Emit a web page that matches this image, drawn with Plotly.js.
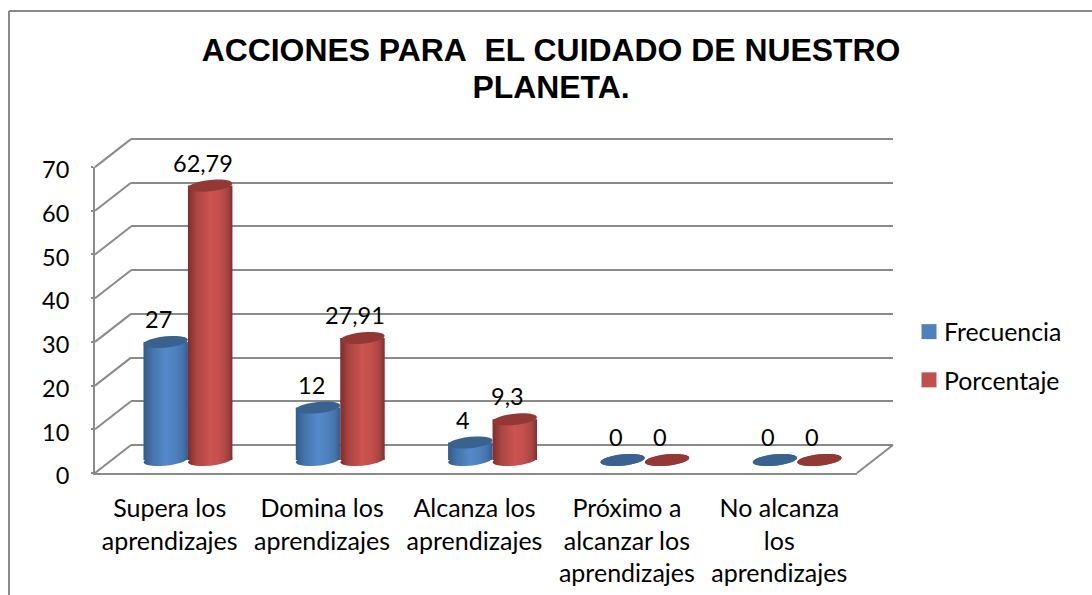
<!DOCTYPE html>
<html><head><meta charset="utf-8">
<script src="https://cdn.plot.ly/plotly-3.0.1.min.js"></script>
<style>html,body{margin:0;padding:0;background:#fff;overflow:hidden}</style>
</head><body><div id="chart" style="width:1092px;height:595px"></div>
<script>
const categories = ["Supera los<br>aprendizajes","Domina los<br>aprendizajes","Alcanza los<br>aprendizajes","Próximo a<br>alcanzar los<br>aprendizajes","No alcanza<br>los<br>aprendizajes"];
const frecuencia = [27,12,4,0,0];
const porcentaje = [62.79,27.91,9.3,0,0];
const frecuenciaLabels = ["27","12","4","0","0"];
const porcentajeLabels = ["62,79","27,91","9,3","0","0"];
const yTicks = [0,10,20,30,40,50,60,70];

const W=1092,H=595;
const px=x=>x/W, py=y=>(H-y)/H;
const positions = categories.map((_,i)=>i);
const FONT='Lato, sans-serif', GRID='#8a8a8a';
const BLUE='#4F81BD', RED='#C0504D', BLUETOP='#3A6291', REDTOP='#943836';
const hw=0.146;

function ellipse(cx,cy){
  const pts=[];
  for(let a=0;a<360;a+=15){
    const t=a*Math.PI/180;
    const x=cx+hw*Math.cos(t);
    const y=cy+1.3*Math.sin(t)+0.5*Math.cos(t);
    pts.push((a?'L':'M')+x.toFixed(4)+','+y.toFixed(4));
  }
  return pts.join(' ')+' Z';
}
const shapes=[];
const line=(x0,y0,x1,y1,w,c)=>({type:'line',xref:'paper',yref:'paper',x0:px(x0),y0:py(y0),x1:px(x1),y1:py(y1),line:{color:c||GRID,width:w||2},layer:'below'});
// outer chart frame
shapes.push(line(9,11,1092,11,2,'#8a8a8a'),line(9,11,9,595,2,'#8a8a8a'));
// perspective wall and floor edges
yTicks.forEach(t=>{
  const f=473-t*4.37, b=445-t*4.37;
  shapes.push(line(95,f,131,b));
});
shapes.push(line(857,473,893,445));
// cylinder ends
[[frecuencia,-hw,BLUE],[porcentaje,hw,RED]].forEach(([vals,off,body])=>{
  vals.forEach((v,i)=>{
    shapes.push({type:'path',xref:'x3',yref:'y3',layer:'below',path:ellipse(i+off,0),fillcolor:body,line:{width:0}});
  });
});
[[frecuencia,-hw,BLUETOP],[porcentaje,hw,REDTOP]].forEach(([vals,off,top])=>{
  vals.forEach((v,i)=>{
    shapes.push({type:'path',xref:'x3',yref:'y3',layer:'above',path:ellipse(i+off,v),fillcolor:top,line:{width:0}});
  });
});
const annotations=[];
[[frecuencia,frecuenciaLabels,-hw],[porcentaje,porcentajeLabels,hw]].forEach(([vals,labs,off])=>{
  vals.forEach((v,i)=>annotations.push({xref:'x3',yref:'y3',x:i+off,y:v,text:labs[i],showarrow:false,xanchor:'center',yanchor:'middle',xshift:-7,yshift:23,font:{family:FONT,size:23.5,color:'#000'}}));
});

const traces=[
 {type:'scatter',x:[0],y:[0],xaxis:'x',yaxis:'y',mode:'none',showlegend:false,hoverinfo:'skip'},
 {type:'scatter',x:[0],y:[0],xaxis:'x2',yaxis:'y2',mode:'none',showlegend:false,hoverinfo:'skip'},
 {type:'bar',name:'Frecuencia',x:positions,y:frecuencia,xaxis:'x3',yaxis:'y3',marker:{color:BLUE},legendgroup:'a'},
 {type:'bar',name:'Porcentaje',x:positions,y:porcentaje,xaxis:'x3',yaxis:'y3',marker:{color:RED},legendgroup:'b'}
];
const layout={
 width:W,height:H,margin:{l:0,r:0,t:0,b:0,pad:0},paper_bgcolor:'#fff',plot_bgcolor:'rgba(0,0,0,0)',
 font:{family:FONT,color:'#000'},
 title:{text:'ACCIONES PARA\u00A0 EL CUIDADO DE NUESTRO<br>PLANETA.',x:551/W,xanchor:'center',y:py(60.5),yanchor:'middle',yref:'paper',font:{family:'"Liberation Sans", Arial, sans-serif',size:31.9,color:'#000',weight:700}},
 barmode:'group',bargap:0.416,bargroupgap:0,
 xaxis:{domain:[px(131),px(893)],range:[0,1],showgrid:false,zeroline:false,showticklabels:false,ticks:'',showline:false,anchor:'y'},
 yaxis:{domain:[py(449.37),py(134.63)],range:[-1,71],tickvals:yTicks,showgrid:true,gridcolor:GRID,gridwidth:2,zeroline:false,showticklabels:false,ticks:'',showline:false,anchor:'x'},
 xaxis2:{domain:[px(95),px(857)],range:[-0.5,4.5],tickvals:positions.map(p=>p-0.01),ticktext:categories,showgrid:false,zeroline:false,showline:true,linecolor:GRID,linewidth:2,ticks:'',ticklabelstandoff:12,tickangle:0,tickfont:{family:FONT,size:25,color:'#000'},anchor:'y2'},
 yaxis2:{domain:[py(473),py(167)],range:[0,70],tickvals:yTicks,showgrid:false,zeroline:false,showline:true,linecolor:GRID,linewidth:2,ticks:'outside',ticklen:2,tickwidth:2,tickcolor:GRID,ticklabelstandoff:17,tickfont:{family:FONT,size:23.5,color:'#000'},anchor:'x2'},
 xaxis3:{domain:[px(111.8),px(873.3)],range:[-0.5,4.5],visible:false,anchor:'y3'},
 yaxis3:{domain:[py(481.85),py(154.1)],range:[-5,70],visible:false,anchor:'x3'},
 legend:{x:px(909),xanchor:'left',y:py(356),yanchor:'middle',font:{family:FONT,size:24.8,color:'#000'},tracegroupgap:13,traceorder:'grouped',bgcolor:'rgba(0,0,0,0)',itemclick:false,itemdoubleclick:false},
 showlegend:true,shapes,annotations
};
const gd=document.getElementById('chart');
Plotly.newPlot(gd,traces,layout,{displayModeBar:false,staticPlot:true}).then(()=>{
  const NS='http://www.w3.org/2000/svg';
  const svg=gd.querySelector('.main-svg');
  let defs=svg.querySelector('defs');
  const mk=(id,stops)=>{
    const g=document.createElementNS(NS,'linearGradient');g.id=id;
    stops.forEach(([o,c])=>{const s=document.createElementNS(NS,'stop');s.setAttribute('offset',o);s.setAttribute('stop-color',c);g.appendChild(s);});
    defs.appendChild(g);
  };
  mk('cylBlue',[[0,'#345A88'],[0.2,'#4474AC'],[0.5,'#5589CA'],[0.7,'#5082BF'],[0.88,'#4474AC'],[1,'#355C8C']]);
  mk('cylRed',[[0,'#7C2E2C'],[0.2,'#AB4643'],[0.5,'#CC5451'],[0.7,'#C44F4C'],[0.88,'#A94543'],[1,'#7E302E']]);
  const paint=(el)=>{
    const f=el.style.fill.replace(/\s/g,'');
    if(f==='rgb(79,129,189)') el.style.fill='url(#cylBlue)';
    if(f==='rgb(192,80,77)') el.style.fill='url(#cylRed)';
  };
  gd.querySelectorAll('.barlayer path, .shapelayer path').forEach(paint);
  gd.querySelectorAll('.gtitle tspan.line').forEach(t=>{
    const n=Math.round(parseFloat(t.getAttribute('dy'))/1.3);
    t.setAttribute('dy',(n*37)+'px');
  });
  gd.querySelectorAll('g.y2tick').forEach(g=>g.setAttribute('transform','translate(0,3)'));
  gd.querySelectorAll('.legendpoints path').forEach(p=>p.setAttribute('d','M7.5,7.5H-7.5V-7.5H7.5Z'));
  gd.querySelectorAll('.legendtext').forEach(t=>{t.setAttribute('x',parseFloat(t.getAttribute('x'))-5);});
});
</script></body></html>
